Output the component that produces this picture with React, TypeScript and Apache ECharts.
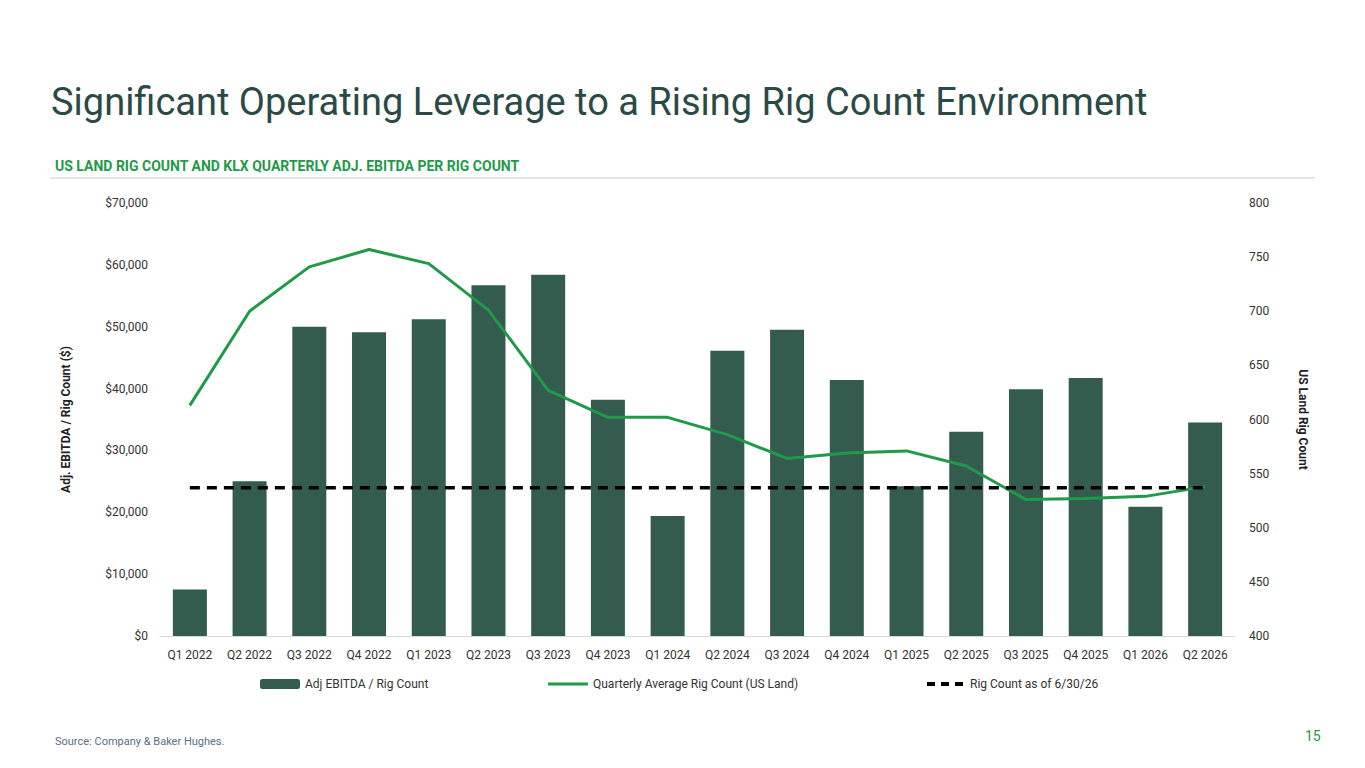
import React, { useEffect, useRef } from "react";
import * as echarts from "echarts";

const categories = ["Q1 2022","Q2 2022","Q3 2022","Q4 2022","Q1 2023","Q2 2023","Q3 2023","Q4 2023","Q1 2024","Q2 2024","Q3 2024","Q4 2024","Q1 2025","Q2 2025","Q3 2025","Q4 2025","Q1 2026","Q2 2026"];
const ebitdaPerRig = [7500,25000,50000,49100,51200,56700,58400,38200,19400,46100,49500,41400,24200,33000,39900,41700,20900,34500];
const rigCount = [613,700,741,757,744,701,627,602,602,586,564,569,571,557,526,527,529,538];
const currentRig = 537;
const currentRigLine = categories.map(() => currentRig);

export default function App() {
  const ref = useRef<HTMLDivElement>(null);
  useEffect(() => {
    document.body.style.margin = "0";
    const chart = echarts.init(ref.current!, null, { renderer: "svg" });
    const font = "Roboto, 'Noto Sans', sans-serif";
    chart.setOption({
      animation: false,
      backgroundColor: "#ffffff",
      textStyle: { fontFamily: font },
      title: [
        { text: "Significant Operating Leverage to a Rising Rig Count Environment", left: 46, top: 78, textStyle: { fontSize: 38, fontWeight: "normal", color: "#2b4a46", fontFamily: font } },
        { text: "US LAND RIG COUNT AND KLX QUARTERLY ADJ. EBITDA PER RIG COUNT", left: 50, top: 154, textStyle: { fontSize: 14, fontWeight: "bold", color: "#1f9a48", fontFamily: font } },
        { text: "Source: Company & Baker Hughes.", left: 50, top: 731, textStyle: { fontSize: 11, fontWeight: "normal", color: "#5a6f86", fontFamily: font } },
        { text: "15", left: 1300, top: 724, textStyle: { fontSize: 14, fontWeight: "normal", color: "#1f9a48", fontFamily: font } },
      ],
      graphic: [
        { type: "line", shape: { x1: 50, y1: 178, x2: 1315, y2: 178 }, style: { stroke: "#c8c8c8", lineWidth: 1 } },
      ],
      legend: [
        { data: ["Adj EBITDA / Rig Count"], left: 255, top: 673, itemWidth: 40, itemHeight: 10, textStyle: { fontSize: 12, color: "#333" } },
        { data: [{ name: "Quarterly Average Rig Count (US Land)", icon: "rect" }], left: 543, top: 673, itemWidth: 40, itemHeight: 3, textStyle: { fontSize: 12, color: "#333" } },
        { data: [{ name: "Rig Count as of 6/30/26", icon: "path://M0,0H8V4H0Z M14,0H22V4H14Z M28,0H36V4H28Z" }], left: 922, top: 673, itemWidth: 40, itemHeight: 4, textStyle: { fontSize: 12, color: "#333" } },
      ],
      grid: { left: 160, right: 130, top: 203, bottom: 132 },
      xAxis: {
        type: "category", data: categories,
        axisTick: { show: false },
        axisLine: { lineStyle: { color: "#d9d9d9" } },
        axisLabel: { fontSize: 12, color: "#333", margin: 13 },
      },
      yAxis: [
        {
          type: "value", min: 0, max: 70000, interval: 10000,
          splitLine: { show: false },
          axisLabel: { fontSize: 12, color: "#333", margin: 12, formatter: (v: number) => "$" + v.toLocaleString("en-US") },
          name: "Adj. EBITDA / Rig Count ($)", nameLocation: "middle", nameGap: 88, nameRotate: 90,
          nameTextStyle: { fontSize: 12, fontWeight: "bold", color: "#222" },
        },
        {
          type: "value", min: 400, max: 800, interval: 50, position: "right",
          splitLine: { show: false },
          axisLabel: { fontSize: 12, color: "#333", margin: 14 },
          name: "US Land Rig Count", nameLocation: "middle", nameGap: 62, nameRotate: -90,
          nameTextStyle: { fontSize: 12, fontWeight: "bold", color: "#222" },
        },
      ],
      series: [
        { name: "Adj EBITDA / Rig Count", type: "bar", data: ebitdaPerRig, barWidth: 34, itemStyle: { color: "#335b4e" } },
        { name: "Quarterly Average Rig Count (US Land)", type: "line", yAxisIndex: 1, data: rigCount, symbol: "none", lineStyle: { color: "#1f9a48", width: 3 }, itemStyle: { color: "#1f9a48" } },
        { name: "Rig Count as of 6/30/26", type: "line", yAxisIndex: 1, data: currentRigLine, symbol: "none", lineStyle: { color: "#000", width: 3.5, type: [10, 7] }, itemStyle: { color: "#000" } },
      ],
    });
    return () => chart.dispose();
  }, []);
  return <div ref={ref} style={{ width: 1365, height: 768 }} />;
}
